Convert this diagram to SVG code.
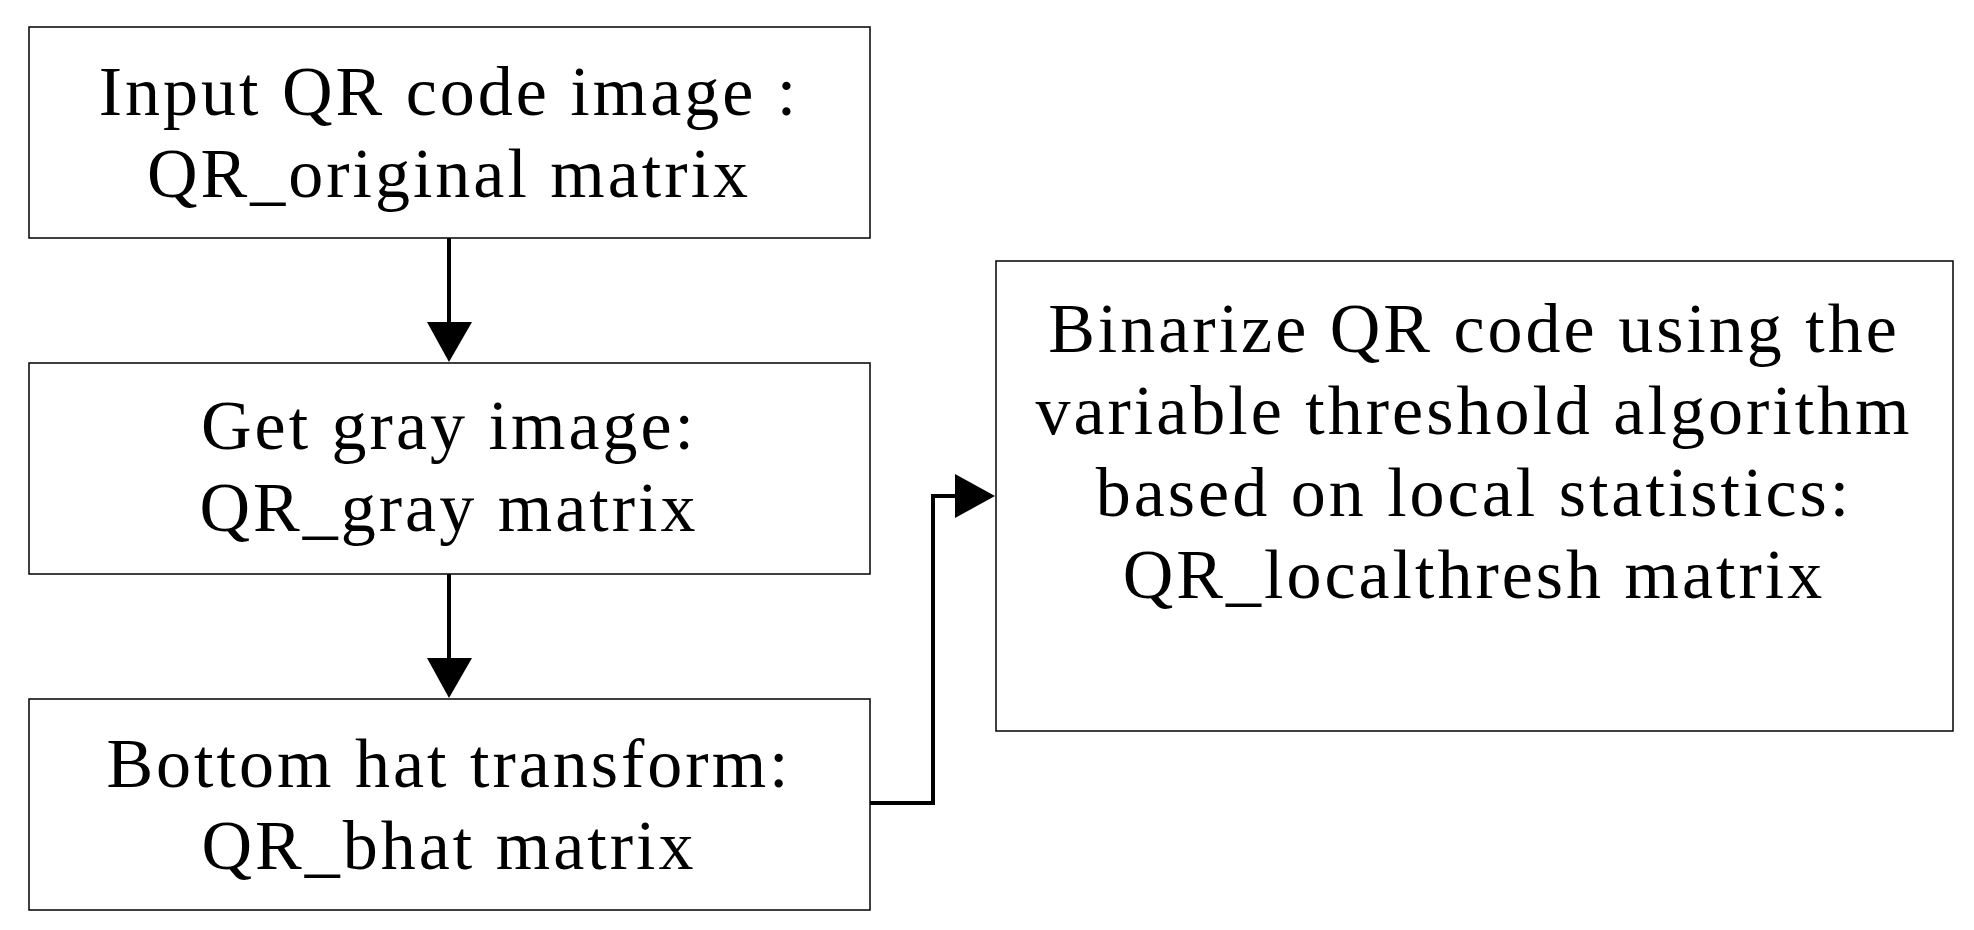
<svg xmlns="http://www.w3.org/2000/svg" width="1974" height="930" viewBox="0 0 1974 930">
<style>
.b{fill:#fff;stroke:#000;stroke-width:1.5}
.t{font-family:"Liberation Serif",serif;font-size:70px;letter-spacing:3px;text-anchor:middle;fill:#000}
.c{fill:none;stroke:#000;stroke-width:4}
</style>
<rect width="1974" height="930" fill="#fff"/>
<g id="n1"><rect class="b" x="29" y="27" width="841" height="211"/><text class="t" x="449" y="115">Input QR code image :</text><text class="t" x="449" y="197">QR_original matrix</text></g>
<g id="n2"><rect class="b" x="29" y="363" width="841" height="211"/><text class="t" x="449" y="449">Get gray image:</text><text class="t" x="449" y="531">QR_gray matrix</text></g>
<g id="n3"><rect class="b" x="29" y="699" width="841" height="211"/><text class="t" x="449" y="787">Bottom hat transform:</text><text class="t" x="449" y="869">QR_bhat matrix</text></g>
<g id="n4"><rect class="b" x="996" y="261" width="957" height="470"/><text class="t" x="1474" y="352">Binarize QR code using the</text><text class="t" x="1474" y="434">variable threshold algorithm</text><text class="t" x="1474" y="516">based on local statistics:</text><text class="t" x="1474" y="598">QR_localthresh matrix</text></g>
<g id="connectors">
<path class="c" d="M449 238V324"/><polygon points="427,322 472,322 449,362"/>
<path class="c" d="M449 574V660"/><polygon points="427,658 472,658 449,698"/>
<path class="c" d="M870 803H933V496H958"/><polygon points="955,474 955,518 995,496"/>
</g>
</svg>
